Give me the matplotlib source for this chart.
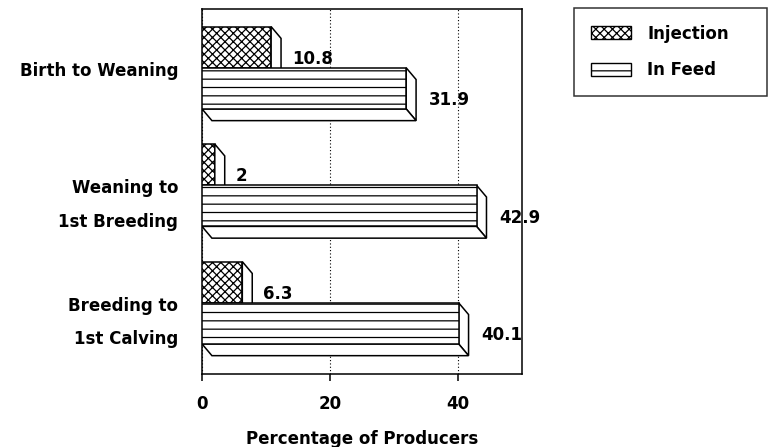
import matplotlib.pyplot as plt
from matplotlib.patches import Polygon, Patch
import numpy as np

plt.rcParams['font.family'] = 'DejaVu Sans'
plt.rcParams['font.weight'] = 'bold'
plt.rcParams['hatch.linewidth'] = 0.9

stages = ['Birth to Weaning', 'Weaning to\n1st Breeding', 'Breeding to\n1st Calving']
injection = [10.8, 2, 6.3]
in_feed = [31.9, 42.9, 40.1]
series = ['Injection', 'In Feed']

fig = plt.figure(figsize=(7.68, 4.47), dpi=100)
ax = fig.add_axes([202/768, 73/447, 320/768, 365/447])

h = 0.35          # bar height
dx, dy = 1.55, 0.10  # 3d depth offset
pos = np.arange(len(stages)) + 0.5  # border between the two bars of a group

def side_faces(x, y0, y1, bottom=True):
    kw = dict(closed=True, fc='white', ec='black', lw=1.1, zorder=3)
    ax.add_patch(Polygon([(x, y0), (x + dx, y0 + dy), (x + dx, y1 + dy), (x, y1)], **kw))
    if bottom:
        ax.add_patch(Polygon([(0, y1), (dx, y1 + dy), (x + dx, y1 + dy), (x, y1)], **kw))

ax.barh(pos - h/2, injection, height=h, color='white', edgecolor='black',
        hatch='xxxx', lw=1.1, zorder=3)
for v, p in zip(injection, pos):
    side_faces(v, p - h, p, bottom=False)
    ax.text(v + dx + 1.7, p - h/2 + dy, str(v), ha='left', va='center', fontsize=12)

ax.barh(pos + h/2, in_feed, height=h, color='white', edgecolor='black',
        hatch='--', lw=1.1, zorder=4)
for v, p in zip(in_feed, pos):
    side_faces(v, p, p + h)
    ax.text(v + dx + 2.0, p + h/2 + dy, str(v), ha='left', va='center', fontsize=12)

# category labels, first line level with the bar border
for name, p in zip(stages, pos):
    for k, line in enumerate(name.split('\n')):
        ax.text(-24/320, p + 0.025 + k*0.285, line, transform=ax.get_yaxis_transform(),
                ha='right', va='center', fontsize=12)

ax.set_xlim(0, 50)
ax.set_ylim(3.106, 0)
ax.set_yticks([])
ax.set_xticks([0, 20, 40])
ax.tick_params(axis='x', direction='out', length=5, width=1.1, pad=10, labelsize=12)
ax.xaxis.grid(True, linestyle=(0, (1, 2)), color='black', lw=0.8)
ax.set_axisbelow(True)
for s in ax.spines.values():
    s.set_linewidth(1.1)
ax.set_xlabel('Percentage of Producers', fontsize=12, fontweight='bold', labelpad=12)

handles = [Patch(fc='white', ec='black', hatch='xxxx', label=series[0]),
           Patch(fc='white', ec='black', hatch='--', label=series[1])]
fig.legend(handles=handles, loc='upper left', mode='expand',
           bbox_to_anchor=(574/768, 1 - 100/447, 193/768, 92/447),
           borderaxespad=0, fontsize=12, frameon=True, fancybox=False,
           edgecolor='black', borderpad=1.0, labelspacing=1.1, handlelength=2.4,
           handleheight=0.8, handletextpad=1.0)
fig.legends[0].get_frame().set_linewidth(1.1)

fig.savefig('out.png', dpi=100)
